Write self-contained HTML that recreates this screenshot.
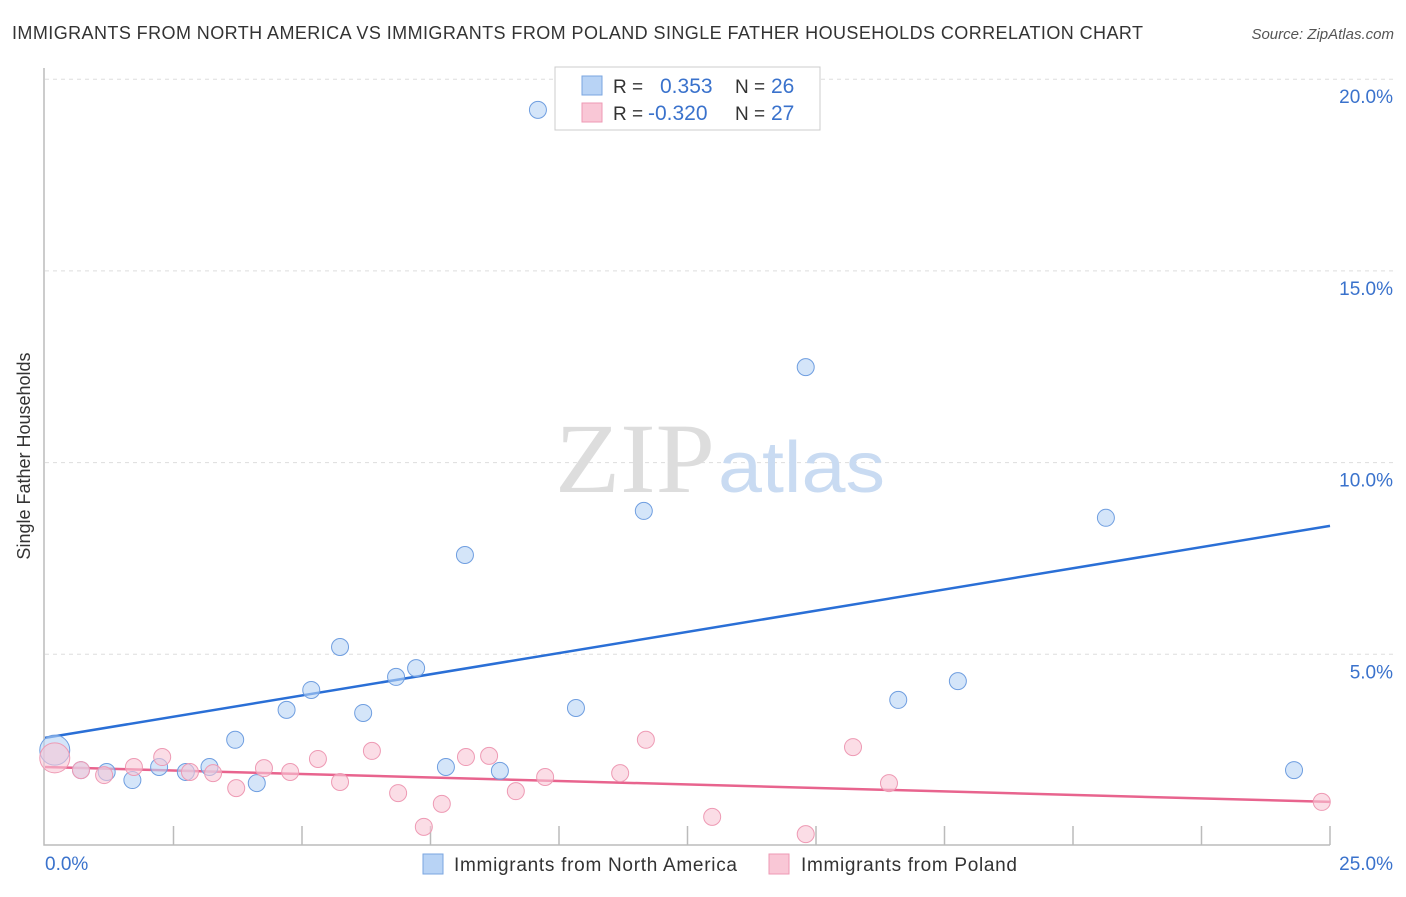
<!DOCTYPE html>
<html><head><meta charset="utf-8"><style>
body{margin:0;background:#fff;font-family:"Liberation Sans",sans-serif;}
svg text{font-family:"Liberation Sans",sans-serif;}
svg text.serif{font-family:"Liberation Serif",serif;}
</style></head><body>
<svg width="1406" height="892">
<text x="12" y="39" font-size="18" fill="#333" textLength="1131">IMMIGRANTS FROM NORTH AMERICA VS IMMIGRANTS FROM POLAND SINGLE FATHER HOUSEHOLDS CORRELATION CHART</text>
<text x="1394" y="39" font-size="15" fill="#555" font-style="italic" text-anchor="end">Source: ZipAtlas.com</text>
<text x="30" y="456" font-size="18" fill="#333" transform="rotate(-90 30 456)" text-anchor="middle">Single Father Households</text>
<g id="grid"></g>
<g><text class="serif" x="555" y="492" font-size="100" fill="#ddd" textLength="160" lengthAdjust="spacingAndGlyphs">ZIP</text><text x="718" y="492" font-size="72" fill="#c9dbf2" textLength="167" lengthAdjust="spacingAndGlyphs">atlas</text></g>
<g id="trends"></g>
<g id="points"></g>
<g>
<rect x="555" y="67" width="265" height="63" fill="#fff" stroke="#ccc"/>
<rect x="582" y="76" width="20" height="19" fill="#b8d3f5" stroke="#7aa6e0"/>
<rect x="582" y="103" width="20" height="19" fill="#f9c7d6" stroke="#ee9ab4"/>
<text x="613" y="93" font-size="19" fill="#333">R = </text><text x="660" y="93" font-size="21" fill="#3a72cc">0.353</text>
<text x="735" y="93" font-size="19" fill="#333">N = </text><text x="771" y="93" font-size="21" fill="#3a72cc">26</text>
<text x="613" y="120" font-size="19" fill="#333">R = </text><text x="648" y="120" font-size="21" fill="#3a72cc">-0.320</text>
<text x="735" y="120" font-size="19" fill="#333">N = </text><text x="771" y="120" font-size="21" fill="#3a72cc">27</text>
</g>
<g>
<rect x="423" y="854" width="20" height="20" fill="#b8d3f5" stroke="#7aa6e0"/>
<text x="454" y="871" font-size="19" fill="#333" textLength="283">Immigrants from North America</text>
<rect x="769" y="854" width="20" height="20" fill="#f9c7d6" stroke="#ee9ab4"/>
<text x="801" y="871" font-size="19" fill="#333" textLength="216">Immigrants from Poland</text>
</g>
</svg>
<script>
const naX=[0.19,0.7,1.2,1.7,2.22,2.74,3.2,3.7,4.12,4.7,5.18,5.74,6.19,6.83,7.22,7.8,8.17,8.85,9.59,10.33,11.65,14.8,16.6,17.76,20.64,24.3];
const naY=[2.5,1.98,1.93,1.72,2.06,1.93,2.06,2.77,1.64,3.55,4.07,5.19,3.47,4.41,4.64,2.06,7.59,1.96,19.2,3.6,8.74,12.49,3.81,4.3,8.56,1.98];
const plX=[0.19,0.7,1.15,1.73,2.28,2.82,3.27,3.72,4.26,4.77,5.31,5.74,6.36,6.87,7.37,7.72,8.19,8.64,9.16,9.73,11.19,11.69,12.98,14.8,15.72,16.42,24.84];
const plY=[2.3,1.98,1.85,2.06,2.32,1.93,1.9,1.51,2.03,1.93,2.27,1.67,2.48,1.38,0.5,1.1,2.32,2.35,1.43,1.8,1.9,2.77,0.76,0.31,2.58,1.64,1.15];
const naTrend=[2.82,8.35];
const plTrend=[2.06,1.15];
const yTicks=[5,10,15,20];
const xTickLabels=["0.0%","25.0%"];
const NS="http://www.w3.org/2000/svg";
const sx=v=>45+v/25*1285, sy=v=>846-v/5*191.7;
function mk(t,a,p){const e=document.createElementNS(NS,t);for(const k in a)e.setAttribute(k,a[k]);p.appendChild(e);return e;}
const svg=document.querySelector('svg'),grid=document.getElementById('grid');
yTicks.forEach(v=>{
 const l=mk('line',{x1:45,x2:1394,y1:sy(v),y2:sy(v),stroke:'#ddd','stroke-dasharray':'4,4'},grid);
 
 
 const t=mk('text',{x:1393,y:sy(v)+24,'font-size':19,fill:'#3a72cc','text-anchor':'end'},grid);
 t.textContent=v.toFixed(1)+'%';
 
 
});
const ax=mk('path',{d:'M44 68V845H1330',fill:'none',stroke:'#bbb','stroke-width':1.5},grid);


for(let i=1;i<=10;i++){const tk=mk('line',{x1:sx(i*2.5),x2:sx(i*2.5),y1:826,y2:845,stroke:'#bbb','stroke-width':1.5},grid);
 
 }
const xl0=mk('text',{x:45,y:870,'font-size':19,fill:'#3a72cc'},grid);xl0.textContent=xTickLabels[0];


const xl1=mk('text',{x:1393,y:870,'font-size':19,fill:'#3a72cc','text-anchor':'end'},grid);xl1.textContent=xTickLabels[1];


const pts=document.getElementById('points'),tr=document.getElementById('trends');
function series(X,Y,fill,stroke,name){X.forEach((x,i)=>{const c=mk('circle',{cx:sx(x),cy:sy(Y[i]),r:i==0?15:8.5,fill:fill,'fill-opacity':0.6,stroke:stroke,'stroke-width':1},pts);
 
 });}
series(naX,naY,'#b8d3f5','#6f9ee0','point-north-america');
series(plX,plY,'#f9c7d6','#ee9ab4','point-poland');
const t1=mk('line',{x1:sx(0),x2:sx(25),y1:sy(naTrend[0]),y2:sy(naTrend[1]),stroke:'#2a6fd6','stroke-width':2.5},tr);


const t2=mk('line',{x1:sx(0),x2:sx(25),y1:sy(plTrend[0]),y2:sy(plTrend[1]),stroke:'#e8648e','stroke-width':2.5},tr);


</script>
</body></html>
